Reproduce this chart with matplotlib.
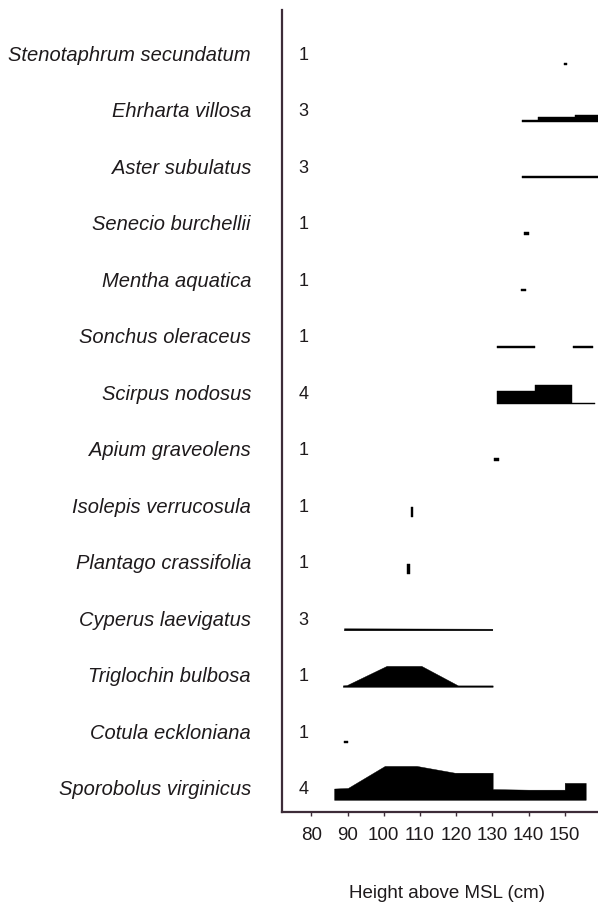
import numpy as np
import matplotlib
import matplotlib.pyplot as plt
import matplotlib.transforms as mtransforms

matplotlib.use("Agg")

plt.rcParams["font.family"] = ["Liberation Sans", "DejaVu Sans"]

# species, listed top to bottom, with their number of records
species = [
    "Stenotaphrum secundatum", "Ehrharta villosa", "Aster subulatus",
    "Senecio burchellii", "Mentha aquatica", "Sonchus oleraceus",
    "Scirpus nodosus", "Apium graveolens", "Isolepis verrucosula",
    "Plantago crassifolia", "Cyperus laevigatus", "Triglochin bulbosa",
    "Cotula eckloniana", "Sporobolus virginicus",
]
counts = [1, 3, 3, 1, 1, 1, 4, 1, 1, 1, 3, 1, 1, 4]

# cover profiles along the elevation gradient (height in cm, relative cover)
stenotaphrum_elev = [149.8, 150.6]
stenotaphrum_cover = [0.3, 0.3]
ehrharta_elev = [138.1, 142.6, 142.6, 152.8, 152.8, 160.0]
ehrharta_cover = [0.35, 0.35, 0.8, 0.8, 1.1, 1.1]
aster_elev = [138.1, 160.0]
aster_cover = [0.35, 0.35]
senecio_elev = [138.8, 140.2]
senecio_cover = [0.4, 0.4]
mentha_elev = [137.8, 139.2]
mentha_cover = [0.4, 0.4]
sonchus_elev = [131.4, 141.9, np.nan, 152.2, 157.7]
sonchus_cover = [0.3, 0.3, np.nan, 0.3, 0.3]
scirpus_elev = [131.4, 141.7, 141.7, 151.9, 151.9, 158.3]
scirpus_cover = [2.3, 2.3, 3.4, 3.4, 0.25, 0.25]
apium_elev = [130.6, 131.8]
apium_cover = [0.45, 0.45]
isolepis_elev = [107.4, 108.2]
isolepis_cover = [1.8, 1.8]
plantago_elev = [106.4, 107.2]
plantago_cover = [1.8, 1.8]
cyperus_elev = [89.0, 130.0]
cyperus_cover = [0.35, 0.28]
triglochin_elev = [88.7, 89.8, 100.8, 110.4, 120.5, 130.1]
triglochin_cover = [0.25, 0.3, 3.7, 3.7, 0.25, 0.25]
cotula_elev = [89.0, 90.2]
cotula_cover = [0.4, 0.4]
sporobolus_elev = [86.3, 90.1, 100.3, 109.1, 119.6, 130.1, 130.1, 140.0, 150.0, 150.0, 155.8]
sporobolus_cover = [2.0, 2.1, 6.0, 6.0, 4.8, 4.8, 1.9, 1.8, 1.8, 3.0, 3.0]

xticks = [80, 90, 100, 110, 120, 130, 140, 150]

profiles = [
    (stenotaphrum_elev, stenotaphrum_cover),
    (ehrharta_elev, ehrharta_cover),
    (aster_elev, aster_cover),
    (senecio_elev, senecio_cover),
    (mentha_elev, mentha_cover),
    (sonchus_elev, sonchus_cover),
    (scirpus_elev, scirpus_cover),
    (apium_elev, apium_cover),
    (isolepis_elev, isolepis_cover),
    (plantago_elev, plantago_cover),
    (cyperus_elev, cyperus_cover),
    (triglochin_elev, triglochin_cover),
    (cotula_elev, cotula_cover),
    (sporobolus_elev, sporobolus_cover),
]

INK = "#1e1a1c"
AXIS = "#3d2c38"
COVER_SCALE = 0.1   # rows per unit of cover
ROW_OFFSET = 0.39   # label centre above the row index
BASE_DROP = 0.175   # kite baseline below the label centre

fig = plt.figure(figsize=(5.98, 9.10), dpi=100)
ax = fig.add_axes([0.4716, 0.1077, 0.5284, 0.8813])

n = len(species)
label_tf = mtransforms.blended_transform_factory(fig.transFigure, ax.transData)
for i, (name, count, (elev, cover)) in enumerate(zip(species, counts, profiles)):
    row = n - 1 - i
    centre = row + ROW_OFFSET
    base = centre - BASE_DROP
    x = np.array(elev, dtype=float)
    h = np.array(cover, dtype=float) * COVER_SCALE
    ax.fill_between(x, base, base + h, color="black", lw=0.3, edgecolor="black")
    ax.text(251 / 598, centre, name, transform=label_tf, ha="right", va="center",
            fontsize=14.5, style="italic", color=INK)
    ax.text(77.9, centre, str(count), ha="center", va="center", fontsize=13, color=INK)

ax.set_xlim(71.9, 159.2)
ax.set_ylim(0, 14.19)

for side in ["top", "right"]:
    ax.spines[side].set_visible(False)
for side in ["left", "bottom"]:
    ax.spines[side].set_color(AXIS)
    ax.spines[side].set_linewidth(1.6)

ax.set_yticks([])
ax.set_xticks(xticks)
ax.set_xticklabels([str(t) for t in xticks])
ax.tick_params(axis="x", direction="out", length=3, width=1, color=AXIS,
               labelsize=13.5, labelcolor=INK, pad=8)

fig.text(447 / 598, 1 - 893 / 910, "Height above MSL (cm)", ha="center", va="center",
         fontsize=13.5, color=INK)

fig.savefig("out.png", dpi=100)
